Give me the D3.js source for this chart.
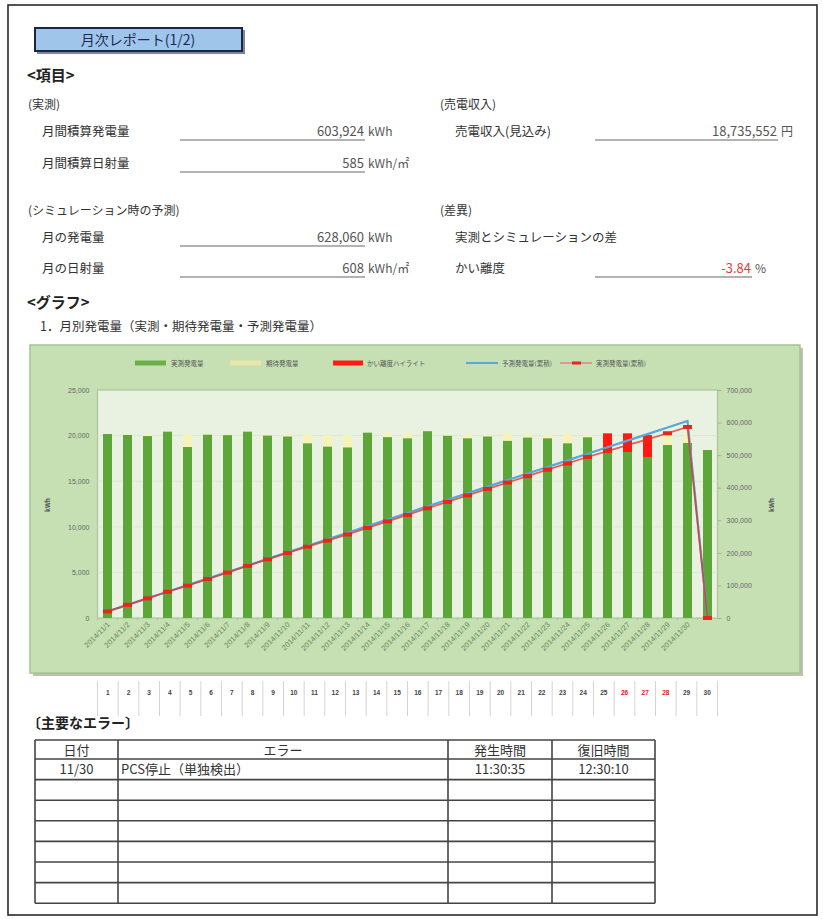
<!DOCTYPE html>
<html><head><meta charset="utf-8">
<script src="https://cdn.jsdelivr.net/npm/d3@7"></script>
<style>
html,body{margin:0;padding:0;background:#fff;}
svg{display:block;font-family:"Noto Sans CJK JP","Noto Sans",sans-serif;}
</style></head>
<body>
<svg id="page" width="823" height="919"></svg>
<script>
// ---------- data ----------
const categories = ["2014/11/1","2014/11/2","2014/11/3","2014/11/4","2014/11/5","2014/11/6","2014/11/7","2014/11/8","2014/11/9","2014/11/10",
  "2014/11/11","2014/11/12","2014/11/13","2014/11/14","2014/11/15","2014/11/16","2014/11/17","2014/11/18","2014/11/19","2014/11/20",
  "2014/11/21","2014/11/22","2014/11/23","2014/11/24","2014/11/25","2014/11/26","2014/11/27","2014/11/28","2014/11/29","2014/11/30",""];
const actualDaily = [20175,20070,19950,20430,18750,20100,20050,20430,20000,19900,
  19150,18790,18700,20320,19830,19700,20480,19980,19700,19900,
  19420,19780,19700,19150,19810,18100,18200,17650,18970,19190,18420];
const expectedDaily = [20200,20150,20150,20200,20150,20150,20150,20200,20150,20100,
  20150,20060,20060,20200,20250,20250,20300,20150,20150,20060,
  20250,20150,20100,20250,20060,20250,20250,20060,20150,20250,0];
const highlightDays = [26,27,28];           // かい離度ハイライト (day numbers)
const predictedCum = [20200,40350,60500,80700,100850,121000,141150,161350,181500,201600,
  221750,241800,261900,282100,302350,322600,342900,363050,383200,403250,
  423500,443650,463750,484000,504050,524300,544550,564600,584750,605000,0];
const actualCum = [20200,40250,60200,80600,99400,119500,139500,160000,180000,199900,
  219000,237800,256500,276800,296700,316400,336900,356800,376500,396400,
  415800,435600,455300,474500,494300,512400,530600,548200,567200,586400,0];
const leftTicks = [0,5000,10000,15000,20000,25000];
const rightTicks = [0,100000,200000,300000,400000,500000,600000,700000];
const dayNumbers = [1,2,3,4,5,6,7,8,9,10,11,12,13,14,15,16,17,18,19,20,21,22,23,24,25,26,27,28,29,30];
const redDayNumbers = [26,27,28];
const legendLabels = ["実測発電量","期待発電量","かい離度ハイライト","予測発電量(累積)","実測発電量(累積)"];
const tableHeader = ["日付","エラー","発生時間","復旧時間"];
const tableRows = [["11/30","PCS停止（単独検出）","11:30:35","12:30:10"],["","","",""],["","","",""],["","","",""],["","","",""],["","","",""],["","","",""]];

// ---------- page ----------
const svg = d3.select("#page");
svg.append("rect").attr("x",8).attr("y",5).attr("width",809).attr("height",910)
  .attr("fill","none").attr("stroke","#2a2a2a").attr("stroke-width",1.6);

// title box
svg.append("rect").attr("x",37).attr("y",30).attr("width",208).attr("height",24).attr("fill","#7d8797");
svg.append("rect").attr("x",35).attr("y",28).attr("width",207).attr("height",23)
  .attr("fill","#9fc6ea").attr("stroke","#1c2640").attr("stroke-width",2);
svg.append("text").attr("x",138).attr("y",45).attr("text-anchor","middle")
  .attr("font-size",14).attr("fill","#1e2a55").text("月次レポート(1/2)");

function t(x,y,s,opt={}){
  return svg.append("text").attr("x",x).attr("y",y).attr("font-size",opt.size||12.5)
    .attr("font-weight",opt.bold?"bold":"normal").attr("fill",opt.fill||"#333")
    .attr("text-anchor",opt.anchor||"start").text(s);
}
t(27,81,"<項目>",{size:15,bold:true,fill:"#222"});
t(28,109,"(実測)",{size:12});
t(440,109,"(売電収入)",{size:12});
t(42,136,"月間積算発電量");
t(42,168,"月間積算日射量");
t(455,136,"売電収入(見込み)");
t(28,215,"(シミュレーション時の予測)",{size:12});
t(440,215,"(差異)",{size:12});
t(42,242,"月の発電量");
t(42,273,"月の日射量");
t(455,242,"実測とシミュレーションの差");
t(455,273,"かい離度");
function val(x0,x1,y,v,unit,col){
  svg.append("line").attr("x1",x0).attr("x2",x1).attr("y1",y+4).attr("y2",y+4).attr("stroke","#666").attr("stroke-width",1.2);
  t(x1-1,y,v,{anchor:"end",size:13,fill:col||"#555"});
  t(x1+3,y,unit,{size:12,fill:"#555"});
}
val(180,365,136,"603,924","kWh");
val(180,365,168,"585","kWh/㎡");
val(595,778,136,"18,735,552","円");
val(180,365,242,"628,060","kWh");
val(180,365,273,"608","kWh/㎡");
val(595,752,273,"-3.84","%","#e83a3a");
t(27,308,"<グラフ>",{size:15,bold:true,fill:"#222"});
t(40,331,"1．月別発電量（実測・期待発電量・予測発電量）",{size:12.5});

// ---------- chart ----------
const P = {x:30,y:345,w:770,h:328};
svg.append("rect").attr("x",P.x+3).attr("y",P.y+3).attr("width",P.w).attr("height",P.h).attr("fill","#b9c2b3");
svg.append("rect").attr("x",P.x).attr("y",P.y).attr("width",P.w).attr("height",P.h)
  .attr("fill","#c6e0b4").attr("stroke","#a4c48e").attr("stroke-width",1.5);
const X0=97.5, X1=717.5, Y0=390, Y1=618;
svg.append("rect").attr("x",X0).attr("y",Y0).attr("width",X1-X0).attr("height",Y1-Y0)
  .attr("fill","#e9f1e0").attr("stroke","#a9c695").attr("stroke-width",1.2);

const idx = d3.range(categories.length);
const x = d3.scaleBand().domain(idx).range([X0,X1]).paddingInner(0.55).paddingOuter(0.275);
const yL = d3.scaleLinear().domain([0,25000]).range([Y1,Y0]);
const yR = d3.scaleLinear().domain([0,700000]).range([Y1,Y0]);

// gridlines
svg.append("g").selectAll("line").data(leftTicks.slice(1,-1)).join("line")
  .attr("x1",X0).attr("x2",X1).attr("y1",d=>yL(d)).attr("y2",d=>yL(d))
  .attr("stroke","#dde8d2").attr("stroke-width",1);

// expected bars (yellow)
svg.append("g").selectAll("rect").data(idx.filter(i=>expectedDaily[i]>0)).join("rect")
  .attr("x",i=>x(i)).attr("width",x.bandwidth())
  .attr("y",i=>yL(expectedDaily[i])).attr("height",i=>Y1-yL(expectedDaily[i]))
  .attr("fill","#f6f3b8");
// actual bars (green)
svg.append("g").selectAll("rect").data(idx).join("rect")
  .attr("x",i=>x(i)).attr("width",x.bandwidth())
  .attr("y",i=>yL(actualDaily[i])).attr("height",i=>Y1-yL(actualDaily[i]))
  .attr("fill","#5da63a");
// highlight (red)
svg.append("g").selectAll("rect").data(highlightDays.map(d=>d-1)).join("rect")
  .attr("x",i=>x(i)).attr("width",x.bandwidth())
  .attr("y",i=>yL(expectedDaily[i])).attr("height",i=>yL(actualDaily[i])-yL(expectedDaily[i]))
  .attr("fill","#ff1a12");

// cumulative lines
const cx = i=>x(i)+x.bandwidth()/2;
svg.append("path").datum(idx).attr("fill","none").attr("stroke","#58a6dc").attr("stroke-width",2.2)
  .attr("d",d3.line().x(cx).y(i=>yR(predictedCum[i])));
svg.append("path").datum(idx).attr("fill","none").attr("stroke","#d9342c").attr("stroke-opacity",0.75).attr("stroke-width",1.8)
  .attr("d",d3.line().x(cx).y(i=>yR(actualCum[i])));
svg.append("g").selectAll("rect").data(idx).join("rect")
  .attr("x",i=>cx(i)-4.5).attr("y",i=>yR(actualCum[i])-2).attr("width",9).attr("height",4)
  .attr("fill","#e8261d");

// axes
const axL = svg.append("g").attr("transform",`translate(${X0},0)`)
  .call(d3.axisLeft(yL).tickValues(leftTicks).tickFormat(d3.format(",")).tickSize(0).tickPadding(8));
const axR = svg.append("g").attr("transform",`translate(${X1},0)`)
  .call(d3.axisRight(yR).tickValues(rightTicks).tickFormat(d3.format(",")).tickSize(4).tickPadding(5));
const axB = svg.append("g").attr("transform",`translate(0,${Y1})`)
  .call(d3.axisBottom(x).tickFormat(i=>categories[i]).tickSize(0).tickPadding(4));
[axL,axR,axB].forEach(g=>{
  g.select(".domain").remove();
  g.selectAll("text").attr("font-family","'Liberation Sans',sans-serif").attr("font-size",7).attr("fill","#666");
  g.selectAll("line").attr("stroke","#a0b890");
});
axB.selectAll(".tick text").attr("font-size",7.5).attr("fill","#6a8a5a")
  .attr("text-anchor","end").attr("dx",0).attr("dy",0).attr("y",0)
  .attr("transform","translate(3,7) rotate(-45)");
// small category ticks
svg.append("g").selectAll("line").data(idx).join("line")
  .attr("x1",i=>x(i)-x.step()*x.paddingInner()/2).attr("x2",i=>x(i)-x.step()*x.paddingInner()/2)
  .attr("y1",Y1).attr("y2",Y1+2).attr("stroke","#a9c695");

// axis titles
svg.append("text").attr("transform","translate(50,505) rotate(-90)").attr("text-anchor","middle")
  .attr("font-size",6.5).attr("fill","#555").attr("font-weight","bold").text("kWh");
svg.append("text").attr("transform","translate(774,505) rotate(-90)").attr("text-anchor","middle")
  .attr("font-size",6.5).attr("fill","#555").attr("font-weight","bold").text("kWh");

// legend
const lg = svg.append("g").attr("font-size",6.5).attr("fill","#555");
const legendX = [135,230,333,466,560];
const ly = 363;
lg.append("rect").attr("x",legendX[0]).attr("y",ly-2.5).attr("width",31).attr("height",5).attr("fill","#6cb04a");
lg.append("rect").attr("x",legendX[1]).attr("y",ly-2.5).attr("width",31).attr("height",5).attr("fill","#e7e6a8");
lg.append("rect").attr("x",legendX[2]).attr("y",ly-2.5).attr("width",30).attr("height",5).attr("fill","#ff1a12");
lg.append("line").attr("x1",legendX[3]).attr("x2",legendX[3]+32).attr("y1",ly).attr("y2",ly).attr("stroke","#58a6dc").attr("stroke-width",2);
lg.append("line").attr("x1",legendX[4]).attr("x2",legendX[4]+32).attr("y1",ly).attr("y2",ly).attr("stroke","#d99a96").attr("stroke-width",2);
lg.append("rect").attr("x",legendX[4]+12).attr("y",ly-1.5).attr("width",9).attr("height",3).attr("fill","#e8261d");
legendLabels.forEach((s,i)=>{
  lg.append("text").attr("x",legendX[i]+(i===2?34:36)).attr("y",ly+2.5).attr("fill","#555").text(s);
});

// day-number row
const dx = d3.scaleBand().domain(dayNumbers).range([X0,X1]);
const dr = svg.append("g");
dr.selectAll("line").data(dayNumbers.concat([null])).join("line")
  .attr("x1",(d,i)=>X0+i*dx.step()).attr("x2",(d,i)=>X0+i*dx.step())
  .attr("y1",681).attr("y2",716).attr("stroke","#d4d4d4").attr("stroke-width",1);
dr.selectAll("text").data(dayNumbers).join("text")
  .attr("x",d=>dx(d)+dx.bandwidth()/2).attr("y",695).attr("text-anchor","middle")
  .attr("font-size",6.5).attr("font-weight","bold").attr("font-family","'Liberation Sans',sans-serif")
  .attr("fill",d=>redDayNumbers.includes(d)?"#ee1111":"#444").text(d=>d);

// ---------- error table ----------
t(27,728,"〔主要なエラー〕",{size:14,bold:true,fill:"#222"});
const colX = [35,118,448,552,655];
const rowY = [740,759];
for(let r=1;r<=tableRows.length;r++) rowY.push(759 + r*20.6);
const tb = svg.append("g");
rowY.forEach(y=>tb.append("line").attr("x1",colX[0]).attr("x2",colX[4]).attr("y1",y).attr("y2",y)
  .attr("stroke","#444").attr("stroke-width",1.6));
colX.forEach(xx=>tb.append("line").attr("x1",xx).attr("x2",xx).attr("y1",rowY[0]).attr("y2",rowY[rowY.length-1])
  .attr("stroke","#444").attr("stroke-width",1.6));
tableHeader.forEach((s,i)=>{
  tb.append("text").attr("x",(colX[i]+colX[i+1])/2).attr("y",755).attr("text-anchor","middle")
    .attr("font-size",13).attr("fill","#333").text(s);
});
tableRows.forEach((row,r)=>{
  const yy = rowY[r+1]+15;
  row.forEach((s,i)=>{
    if(!s) return;
    const el = tb.append("text").attr("y",yy).attr("font-size",13).attr("fill","#333").text(s);
    if(i===1) el.attr("x",colX[1]+3);
    else el.attr("x",(colX[i]+colX[i+1])/2).attr("text-anchor","middle");
  });
});
</script>
</body></html>
